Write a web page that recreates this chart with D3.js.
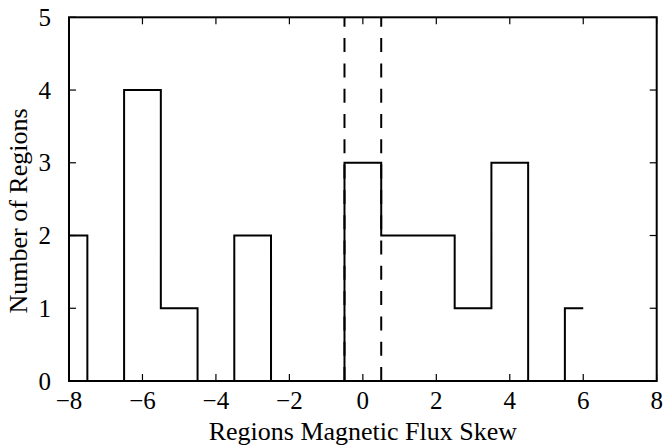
<!DOCTYPE html>
<html lang="en">
<head>
    <meta charset="UTF-8">
    <title>Regions Magnetic Flux Skew</title>
    <script src="https://d3js.org/d3.v7.min.js"></script>
    <style>
        body { margin: 0; background: #fff; }
        svg text {
            font-family: "Liberation Serif", "Times New Roman", serif;
            fill: #000;
        }
        .tick-label { font-size: 25px; }
        .axis-label { font-size: 26px; }
    </style>
</head>
<body>

<svg></svg>

<script>
    // histogram counts, drawn as steps-mid
    const skewValues = [-8, -7, -6, -5, -4, -3, -2, -1, 0, 1, 2, 3, 4, 5, 6];
    const regionCounts = [2, 0, 4, 1, 0, 2, 0, 0, 3, 2, 2, 1, 3, 0, 1];
    const dashedMarks = [-0.5, 0.5];
    const xTicks = [-8, -6, -4, -2, 0, 2, 4, 6, 8];
    const yTicks = [0, 1, 2, 3, 4, 5];

    const width = 663, height = 447;
    const plotLeft = 69, plotRight = 656.7, plotTop = 17.3, plotBottom = 381;
    const tickLen = 7;

    const svg = d3.select("svg")
        .attr("width", width)
        .attr("height", height);

    const x = d3.scaleLinear().domain([-8, 8]).range([plotLeft, plotRight]);
    const y = d3.scaleLinear().domain([0, 5]).range([plotBottom, plotTop]);

    const fmt = d => d < 0 ? "\u2212" + Math.abs(d) : String(d);

    svg.append("defs").append("clipPath")
        .attr("id", "plot-clip")
        .append("rect")
        .attr("x", plotLeft).attr("y", plotTop)
        .attr("width", plotRight - plotLeft).attr("height", plotBottom - plotTop);

    const plot = svg.append("g").attr("clip-path", "url(#plot-clip)");

    // dashed vertical markers
    plot.selectAll(".marker")
        .data(dashedMarks)
        .enter().append("line")
        .attr("class", "marker")
        .attr("x1", d => x(d)).attr("x2", d => x(d))
        .attr("y1", y(0)).attr("y2", y(5))
        .attr("stroke", "#000")
        .attr("stroke-width", 2)
        .attr("stroke-dasharray", "14,11.3");

    const line = d3.line()
        .x((d, i) => x(skewValues[i]))
        .y(d => y(d))
        .curve(d3.curveStep);

    plot.append("path")
        .datum(regionCounts)
        .attr("d", line)
        .attr("fill", "none")
        .attr("stroke", "#000")
        .attr("stroke-width", 2);

    // ticks on all four sides, pointing inward
    const ticks = svg.append("g").attr("stroke", "#000").attr("stroke-width", 1.2);

    ticks.selectAll(".xb").data(xTicks).enter().append("line")
        .attr("x1", d => x(d)).attr("x2", d => x(d))
        .attr("y1", plotBottom).attr("y2", plotBottom - tickLen);
    ticks.selectAll(".xt").data(xTicks).enter().append("line")
        .attr("x1", d => x(d)).attr("x2", d => x(d))
        .attr("y1", plotTop).attr("y2", plotTop + tickLen);
    ticks.selectAll(".yl").data(yTicks).enter().append("line")
        .attr("x1", plotLeft).attr("x2", plotLeft + tickLen)
        .attr("y1", d => y(d)).attr("y2", d => y(d));
    ticks.selectAll(".yr").data(yTicks).enter().append("line")
        .attr("x1", plotRight).attr("x2", plotRight - tickLen)
        .attr("y1", d => y(d)).attr("y2", d => y(d));

    // frame
    svg.append("rect")
        .attr("x", plotLeft).attr("y", plotTop)
        .attr("width", plotRight - plotLeft).attr("height", plotBottom - plotTop)
        .attr("fill", "none")
        .attr("stroke", "#000")
        .attr("stroke-width", 2);

    // tick labels
    svg.selectAll(".xlab").data(xTicks).enter().append("text")
        .attr("class", "tick-label")
        .attr("x", d => x(d))
        .attr("y", 409)
        .attr("text-anchor", "middle")
        .text(fmt);

    svg.selectAll(".ylab").data(yTicks).enter().append("text")
        .attr("class", "tick-label")
        .attr("x", 51)
        .attr("y", d => y(d) + 8.5)
        .attr("text-anchor", "end")
        .text(fmt);

    svg.append("text")
        .attr("class", "axis-label")
        .attr("x", (plotLeft + plotRight) / 2)
        .attr("y", 440)
        .attr("text-anchor", "middle")
        .text("Regions Magnetic Flux Skew");

    svg.append("text")
        .attr("class", "axis-label")
        .attr("transform", "translate(27,211) rotate(-90)")
        .attr("text-anchor", "middle")
        .text("Number of Regions");
</script>

</body>
</html>
